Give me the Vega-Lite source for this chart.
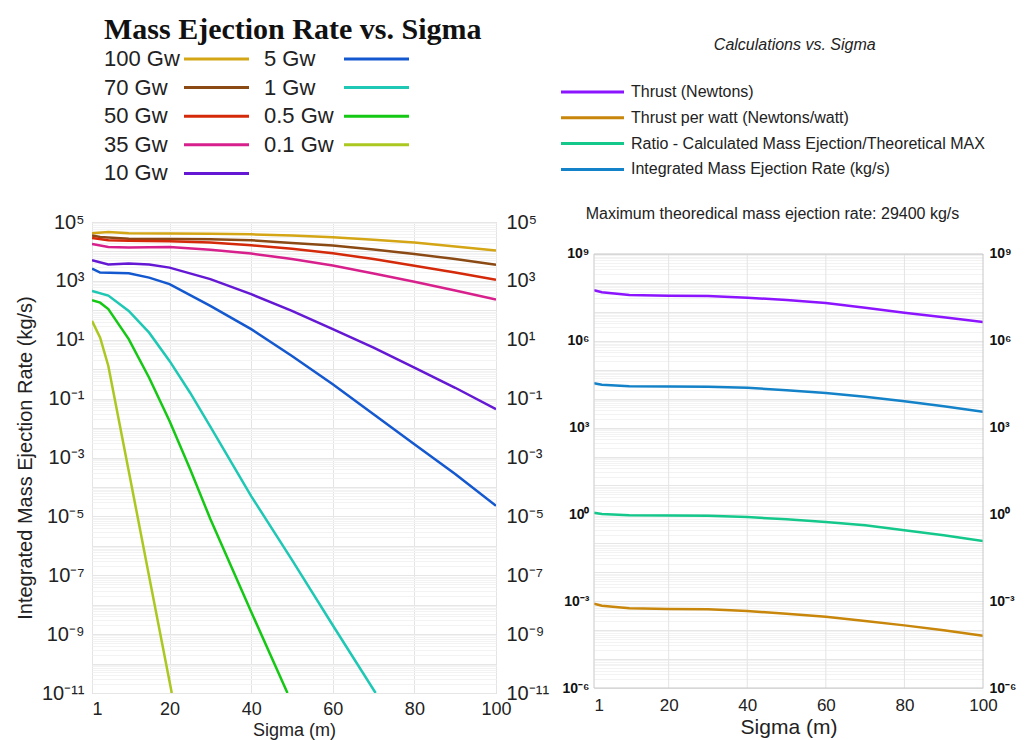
{
  "$schema": "https://vega.github.io/schema/vega-lite/v6.json",
  "padding": {"left": 14, "top": 14, "right": 0, "bottom": 0},
  "background": "white",
  "spacing": 9,
  "resolve": {"scale": {"color": "independent", "x": "independent", "y": "independent"}, "legend": {"color": "independent"}},
  "config": {
    "font": "Liberation Sans",
    "view": {"stroke": "#c8c8c8"},
    "axis": {"labelFont": "Liberation Sans", "titleFont": "Liberation Sans", "labelColor": "#222222", "titleColor": "#222222", "ticks": false, "domain": false, "titleFontWeight": "normal", "gridColor": "#e4e4e4"},
    "legend": {"labelFont": "Liberation Sans", "labelColor": "#222222", "titleColor": "#111111"}
  },
  "datasets": {
    "left": [
      {"series": "100 Gw", "sigma": 1, "rate": 41700}, {"series": "100 Gw", "sigma": 5, "rate": 45700}, {"series": "100 Gw", "sigma": 10, "rate": 41700}, {"series": "100 Gw", "sigma": 20, "rate": 40700}, {"series": "100 Gw", "sigma": 30, "rate": 39800}, {"series": "100 Gw", "sigma": 40, "rate": 38000}, {"series": "100 Gw", "sigma": 50, "rate": 34700}, {"series": "100 Gw", "sigma": 60, "rate": 30200}, {"series": "100 Gw", "sigma": 70, "rate": 25100}, {"series": "100 Gw", "sigma": 80, "rate": 20000}, {"series": "100 Gw", "sigma": 90, "rate": 14800}, {"series": "100 Gw", "sigma": 100, "rate": 10700},
      {"series": "70 Gw", "sigma": 1, "rate": 34700}, {"series": "70 Gw", "sigma": 3, "rate": 30900}, {"series": "70 Gw", "sigma": 10, "rate": 26900}, {"series": "70 Gw", "sigma": 20, "rate": 26300}, {"series": "70 Gw", "sigma": 30, "rate": 25700}, {"series": "70 Gw", "sigma": 40, "rate": 24000}, {"series": "70 Gw", "sigma": 50, "rate": 19500}, {"series": "70 Gw", "sigma": 60, "rate": 15800}, {"series": "70 Gw", "sigma": 70, "rate": 11700}, {"series": "70 Gw", "sigma": 80, "rate": 8130}, {"series": "70 Gw", "sigma": 90, "rate": 5500}, {"series": "70 Gw", "sigma": 100, "rate": 3550},
      {"series": "50 Gw", "sigma": 1, "rate": 28800}, {"series": "50 Gw", "sigma": 5, "rate": 24000}, {"series": "50 Gw", "sigma": 10, "rate": 22900}, {"series": "50 Gw", "sigma": 20, "rate": 22400}, {"series": "50 Gw", "sigma": 30, "rate": 20000}, {"series": "50 Gw", "sigma": 40, "rate": 16200}, {"series": "50 Gw", "sigma": 50, "rate": 12300}, {"series": "50 Gw", "sigma": 60, "rate": 8710}, {"series": "50 Gw", "sigma": 70, "rate": 5500}, {"series": "50 Gw", "sigma": 80, "rate": 3240}, {"series": "50 Gw", "sigma": 90, "rate": 1910}, {"series": "50 Gw", "sigma": 100, "rate": 1100},
      {"series": "35 Gw", "sigma": 1, "rate": 17800}, {"series": "35 Gw", "sigma": 5, "rate": 14100}, {"series": "35 Gw", "sigma": 10, "rate": 13500}, {"series": "35 Gw", "sigma": 20, "rate": 14100}, {"series": "35 Gw", "sigma": 30, "rate": 11500}, {"series": "35 Gw", "sigma": 40, "rate": 8510}, {"series": "35 Gw", "sigma": 50, "rate": 5500}, {"series": "35 Gw", "sigma": 60, "rate": 3310}, {"series": "35 Gw", "sigma": 70, "rate": 1780}, {"series": "35 Gw", "sigma": 80, "rate": 933}, {"series": "35 Gw", "sigma": 90, "rate": 468}, {"series": "35 Gw", "sigma": 100, "rate": 234},
      {"series": "10 Gw", "sigma": 1, "rate": 5010}, {"series": "10 Gw", "sigma": 5, "rate": 3630}, {"series": "10 Gw", "sigma": 10, "rate": 3890}, {"series": "10 Gw", "sigma": 15, "rate": 3630}, {"series": "10 Gw", "sigma": 20, "rate": 2820}, {"series": "10 Gw", "sigma": 30, "rate": 1150}, {"series": "10 Gw", "sigma": 40, "rate": 355}, {"series": "10 Gw", "sigma": 50, "rate": 95.5}, {"series": "10 Gw", "sigma": 60, "rate": 22.9}, {"series": "10 Gw", "sigma": 70, "rate": 5.37}, {"series": "10 Gw", "sigma": 80, "rate": 1.12}, {"series": "10 Gw", "sigma": 90, "rate": 0.234}, {"series": "10 Gw", "sigma": 100, "rate": 0.0437},
      {"series": "5 Gw", "sigma": 1, "rate": 2630}, {"series": "5 Gw", "sigma": 3, "rate": 1910}, {"series": "5 Gw", "sigma": 10, "rate": 1820}, {"series": "5 Gw", "sigma": 15, "rate": 1290}, {"series": "5 Gw", "sigma": 20, "rate": 776}, {"series": "5 Gw", "sigma": 30, "rate": 141}, {"series": "5 Gw", "sigma": 40, "rate": 22.9}, {"series": "5 Gw", "sigma": 50, "rate": 2.82}, {"series": "5 Gw", "sigma": 60, "rate": 0.309}, {"series": "5 Gw", "sigma": 70, "rate": 0.0295}, {"series": "5 Gw", "sigma": 80, "rate": 0.00282}, {"series": "5 Gw", "sigma": 90, "rate": 0.000275}, {"series": "5 Gw", "sigma": 100, "rate": 0.0000229},
      {"series": "1 Gw", "sigma": 1, "rate": 457}, {"series": "1 Gw", "sigma": 5, "rate": 316}, {"series": "1 Gw", "sigma": 10, "rate": 95.5}, {"series": "1 Gw", "sigma": 15, "rate": 17.4}, {"series": "1 Gw", "sigma": 20, "rate": 1.91}, {"series": "1 Gw", "sigma": 25, "rate": 0.162}, {"series": "1 Gw", "sigma": 30, "rate": 0.0112}, {"series": "1 Gw", "sigma": 40, "rate": 4.9e-5}, {"series": "1 Gw", "sigma": 50, "rate": 3.31e-7}, {"series": "1 Gw", "sigma": 60, "rate": 2.0e-9}, {"series": "1 Gw", "sigma": 70, "rate": 1.29e-11}, {"series": "1 Gw", "sigma": 70.5, "rate": 1e-11},
      {"series": "0.5 Gw", "sigma": 1, "rate": 219}, {"series": "0.5 Gw", "sigma": 3, "rate": 182}, {"series": "0.5 Gw", "sigma": 5, "rate": 110}, {"series": "0.5 Gw", "sigma": 10, "rate": 10.5}, {"series": "0.5 Gw", "sigma": 15, "rate": 0.513}, {"series": "0.5 Gw", "sigma": 20, "rate": 0.0174}, {"series": "0.5 Gw", "sigma": 25, "rate": 4.17e-4}, {"series": "0.5 Gw", "sigma": 30, "rate": 8.13e-6}, {"series": "0.5 Gw", "sigma": 40, "rate": 5.75e-9}, {"series": "0.5 Gw", "sigma": 48.9, "rate": 1e-11},
      {"series": "0.1 Gw", "sigma": 1, "rate": 43.7}, {"series": "0.1 Gw", "sigma": 3, "rate": 11.7}, {"series": "0.1 Gw", "sigma": 5, "rate": 1.29}, {"series": "0.1 Gw", "sigma": 10, "rate": 3.5e-4}, {"series": "0.1 Gw", "sigma": 15, "rate": 9.1e-8}, {"series": "0.1 Gw", "sigma": 20, "rate": 2.45e-11}, {"series": "0.1 Gw", "sigma": 20.55, "rate": 1e-11}
    ],
    "right": [
      {"series": "Thrust (Newtons)", "sigma": 1, "value": 5.56e7}, {"series": "Thrust (Newtons)", "sigma": 3, "value": 4.74e7}, {"series": "Thrust (Newtons)", "sigma": 10, "value": 3.83e7}, {"series": "Thrust (Newtons)", "sigma": 20, "value": 3.63e7}, {"series": "Thrust (Newtons)", "sigma": 30, "value": 3.53e7}, {"series": "Thrust (Newtons)", "sigma": 40, "value": 3.09e7}, {"series": "Thrust (Newtons)", "sigma": 50, "value": 2.57e7}, {"series": "Thrust (Newtons)", "sigma": 60, "value": 2.02e7}, {"series": "Thrust (Newtons)", "sigma": 70, "value": 1.39e7}, {"series": "Thrust (Newtons)", "sigma": 80, "value": 9.35e6}, {"series": "Thrust (Newtons)", "sigma": 90, "value": 6.5e6}, {"series": "Thrust (Newtons)", "sigma": 100, "value": 4.47e6},
      {"series": "Thrust per watt (Newtons/watt)", "sigma": 1, "value": 8.17e-4}, {"series": "Thrust per watt (Newtons/watt)", "sigma": 3, "value": 6.97e-4}, {"series": "Thrust per watt (Newtons/watt)", "sigma": 10, "value": 5.66e-4}, {"series": "Thrust per watt (Newtons/watt)", "sigma": 20, "value": 5.37e-4}, {"series": "Thrust per watt (Newtons/watt)", "sigma": 30, "value": 5.24e-4}, {"series": "Thrust per watt (Newtons/watt)", "sigma": 40, "value": 4.57e-4}, {"series": "Thrust per watt (Newtons/watt)", "sigma": 50, "value": 3.69e-4}, {"series": "Thrust per watt (Newtons/watt)", "sigma": 60, "value": 2.9e-4}, {"series": "Thrust per watt (Newtons/watt)", "sigma": 70, "value": 2.06e-4}, {"series": "Thrust per watt (Newtons/watt)", "sigma": 80, "value": 1.46e-4}, {"series": "Thrust per watt (Newtons/watt)", "sigma": 90, "value": 9.84e-5}, {"series": "Thrust per watt (Newtons/watt)", "sigma": 100, "value": 6.4e-5},
      {"series": "Ratio - Calculated Mass Ejection/Theoretical MAX", "sigma": 1, "value": 1.143}, {"series": "Ratio - Calculated Mass Ejection/Theoretical MAX", "sigma": 3, "value": 1.03}, {"series": "Ratio - Calculated Mass Ejection/Theoretical MAX", "sigma": 10, "value": 0.929}, {"series": "Ratio - Calculated Mass Ejection/Theoretical MAX", "sigma": 20, "value": 0.912}, {"series": "Ratio - Calculated Mass Ejection/Theoretical MAX", "sigma": 30, "value": 0.9}, {"series": "Ratio - Calculated Mass Ejection/Theoretical MAX", "sigma": 40, "value": 0.811}, {"series": "Ratio - Calculated Mass Ejection/Theoretical MAX", "sigma": 50, "value": 0.676}, {"series": "Ratio - Calculated Mass Ejection/Theoretical MAX", "sigma": 60, "value": 0.545}, {"series": "Ratio - Calculated Mass Ejection/Theoretical MAX", "sigma": 70, "value": 0.419}, {"series": "Ratio - Calculated Mass Ejection/Theoretical MAX", "sigma": 80, "value": 0.281}, {"series": "Ratio - Calculated Mass Ejection/Theoretical MAX", "sigma": 90, "value": 0.189}, {"series": "Ratio - Calculated Mass Ejection/Theoretical MAX", "sigma": 100, "value": 0.12},
      {"series": "Integrated Mass Ejection Rate (kg/s)", "sigma": 1, "value": 33960}, {"series": "Integrated Mass Ejection Rate (kg/s)", "sigma": 3, "value": 30340}, {"series": "Integrated Mass Ejection Rate (kg/s)", "sigma": 10, "value": 26730}, {"series": "Integrated Mass Ejection Rate (kg/s)", "sigma": 20, "value": 26300}, {"series": "Integrated Mass Ejection Rate (kg/s)", "sigma": 30, "value": 25880}, {"series": "Integrated Mass Ejection Rate (kg/s)", "sigma": 40, "value": 23880}, {"series": "Integrated Mass Ejection Rate (kg/s)", "sigma": 50, "value": 19450}, {"series": "Integrated Mass Ejection Rate (kg/s)", "sigma": 60, "value": 15670}, {"series": "Integrated Mass Ejection Rate (kg/s)", "sigma": 70, "value": 11670}, {"series": "Integrated Mass Ejection Rate (kg/s)", "sigma": 80, "value": 8090}, {"series": "Integrated Mass Ejection Rate (kg/s)", "sigma": 90, "value": 5430}, {"series": "Integrated Mass Ejection Rate (kg/s)", "sigma": 100, "value": 3540}
    ]
  },
  "hconcat": [
    {
      "width": 404,
      "height": 471,
      "data": {"name": "left"},
      "layer": [
        {
          "mark": {"type": "line", "strokeWidth": 2.5, "clip": true},
          "encoding": {
            "x": {"field": "sigma", "type": "quantitative", "scale": {"domain": [1, 100], "nice": false, "zero": false},
              "axis": {"values": [1, 20, 40, 60, 80, 100], "title": "Sigma (m)", "labelFontSize": 18, "titleFontSize": 18, "labelPadding": 7, "titlePadding": 3, "labelFlush": false,
                "labelAlign": {"condition": {"test": "datum.value == 1", "value": "left"}, "value": "center"}}},
            "y": {"field": "rate", "type": "quantitative", "scale": {"type": "log", "domain": [1e-11, 100000], "nice": false},
              "axis": {"orient": "left", "values": [100000, 1000, 10, 0.1, 0.001, 0.00001, 1e-7, 1e-9, 1e-11], "grid": false, "labelOverlap": false, "labelFontSize": 20, "labelPadding": 8,
                "labelExpr": "'10' + replace(replace(replace(replace(replace(replace(replace(replace(replace(replace(replace('' + round(log(datum.value)/LN10), regexp('-','g'), '⁻'), regexp('0','g'), '⁰'), regexp('1','g'), '¹'), regexp('2','g'), '²'), regexp('3','g'), '³'), regexp('4','g'), '⁴'), regexp('5','g'), '⁵'), regexp('6','g'), '⁶'), regexp('7','g'), '⁷'), regexp('8','g'), '⁸'), regexp('9','g'), '⁹')",
                "title": "Integrated Mass Ejection Rate (kg/s)", "titleFontSize": 20, "titlePadding": 6}},
            "color": {"field": "series", "type": "nominal",
              "scale": {"domain": ["100 Gw", "70 Gw", "50 Gw", "35 Gw", "10 Gw", "5 Gw", "1 Gw", "0.5 Gw", "0.1 Gw"],
                "range": ["#d4a514", "#8b4a14", "#d42a0a", "#d8208c", "#6418d4", "#1458d0", "#1ec8b4", "#14c814", "#aac820"]},
              "legend": {"orient": "none", "legendX": 12, "legendY": -207, "columns": 2, "columnPadding": 9, "rowPadding": 6.6,
                "symbolType": "M69,0H134", "symbolSize": 4, "symbolStrokeWidth": 3, "symbolOffset": 0, "labelOffset": -22, "labelFontSize": 22, "labelLimit": 0,
                "title": "Mass Ejection Rate vs. Sigma", "titleFont": "Liberation Serif", "titleFontSize": 30, "titleFontWeight": "bold", "titleAnchor": "start", "titlePadding": 3, "titleLimit": 0}}
          }
        },
        {
          "mark": {"type": "line", "strokeWidth": 2.5, "opacity": 0, "clip": true},
          "encoding": {
            "x": {"field": "sigma", "type": "quantitative"},
            "y": {"field": "rate", "type": "quantitative",
              "axis": {"orient": "right", "title": null, "labelOverlap": false, "labelFontSize": 20, "labelPadding": 10, "grid": true,
                "gridColor": {"condition": {"test": "abs(log(datum.value)/LN10 - round(log(datum.value)/LN10)) < 0.001", "value": "#e6e6e6"}, "value": "#f3f3f3"},
                "values": [1e-11,2e-11,3e-11,4e-11,5e-11,6e-11,7e-11,8e-11,9e-11,1e-10,2e-10,3e-10,4e-10,5e-10,6e-10,7e-10,8e-10,9e-10,1e-9,2e-9,3e-9,4e-9,5e-9,6e-9,7e-9,8e-9,9e-9,1e-8,2e-8,3e-8,4e-8,5e-8,6e-8,7e-8,8e-8,9e-8,1e-7,2e-7,3e-7,4e-7,5e-7,6e-7,7e-7,8e-7,9e-7,1e-6,2e-6,3e-6,4e-6,5e-6,6e-6,7e-6,8e-6,9e-6,1e-5,2e-5,3e-5,4e-5,5e-5,6e-5,7e-5,8e-5,9e-5,1e-4,2e-4,3e-4,4e-4,5e-4,6e-4,7e-4,8e-4,9e-4,1e-3,2e-3,3e-3,4e-3,5e-3,6e-3,7e-3,8e-3,9e-3,0.01,0.02,0.03,0.04,0.05,0.06,0.07,0.08,0.09,0.1,0.2,0.3,0.4,0.5,0.6,0.7,0.8,0.9,1,2,3,4,5,6,7,8,9,10,20,30,40,50,60,70,80,90,100,200,300,400,500,600,700,800,900,1000,2000,3000,4000,5000,6000,7000,8000,9000,10000,20000,30000,40000,50000,60000,70000,80000,90000,100000],
                "labelExpr": "abs(log(datum.value)/LN10 - round(log(datum.value)/LN10)) < 0.001 && round(log(datum.value)/LN10) % 2 != 0 ? '10' + replace(replace(replace(replace(replace(replace(replace(replace(replace(replace(replace('' + round(log(datum.value)/LN10), regexp('-','g'), '⁻'), regexp('0','g'), '⁰'), regexp('1','g'), '¹'), regexp('2','g'), '²'), regexp('3','g'), '³'), regexp('4','g'), '⁴'), regexp('5','g'), '⁵'), regexp('6','g'), '⁶'), regexp('7','g'), '⁷'), regexp('8','g'), '⁸'), regexp('9','g'), '⁹') : ''"}},
            "detail": {"field": "series", "type": "nominal"}
          }
        }
      ],
      "resolve": {"axis": {"y": "independent"}}
    },
    {
      "width": 389,
      "height": 466,
      "view": {"stroke": null},
      "data": {"name": "right"},
      "title": {"text": "Calculations vs. Sigma", "fontSize": 16, "fontStyle": "italic", "fontWeight": "normal", "anchor": "middle", "frame": "bounds", "offset": 31, "dx": 7, "color": "#222222", "font": "Liberation Sans"},
      "layer": [
        {
          "data": {"values": [{"grid": 20}, {"grid": 40}, {"grid": 60}, {"grid": 80}]},
          "mark": {"type": "rule", "color": "#e4e4e4", "strokeWidth": 1},
          "encoding": {
            "x": {"field": "grid", "type": "quantitative", "scale": {"domain": [1, 100], "nice": false, "zero": false},
              "axis": {"values": [1, 20, 40, 60, 80, 100], "grid": false, "title": "Sigma (m)", "labelFontSize": 17, "titleFontSize": 21, "labelPadding": 9, "titlePadding": 3, "labelFlush": false,
                "labelAlign": {"condition": {"test": "datum.value == 1", "value": "left"}, "value": "center"}}},
            "y": {"datum": 1e-6, "type": "quantitative", "axis": null},
            "y2": {"datum": 1e9}
          }
        },
        {
          "mark": {"type": "line", "strokeWidth": 2.5, "clip": true},
          "encoding": {
            "x": {"field": "sigma", "type": "quantitative",
              "axis": {"values": [1, 20, 40, 60, 80, 100], "grid": false, "title": "Sigma (m)", "labelFontSize": 17, "titleFontSize": 21, "labelPadding": 9, "titlePadding": 3, "labelFlush": false,
                "labelAlign": {"condition": {"test": "datum.value == 1", "value": "left"}, "value": "center"}}},
            "y": {"field": "value", "type": "quantitative", "scale": {"type": "log", "domain": [1e-6, 1.276e10], "nice": false},
              "axis": {"orient": "left", "values": [1e9, 1e6, 1000, 1, 0.001, 1e-6], "grid": false, "labelOverlap": false, "labelFontSize": 14, "labelFontWeight": "bold", "labelColor": "#111111", "labelPadding": 5, "title": null,
                "labelExpr": "'10' + replace(replace(replace(replace(replace(replace(replace(replace(replace(replace(replace('' + round(log(datum.value)/LN10), regexp('-','g'), '⁻'), regexp('0','g'), '⁰'), regexp('1','g'), '¹'), regexp('2','g'), '²'), regexp('3','g'), '³'), regexp('4','g'), '⁴'), regexp('5','g'), '⁵'), regexp('6','g'), '⁶'), regexp('7','g'), '⁷'), regexp('8','g'), '⁸'), regexp('9','g'), '⁹')"}},
            "color": {"field": "series", "type": "nominal",
              "scale": {"domain": ["Thrust (Newtons)", "Thrust per watt (Newtons/watt)", "Ratio - Calculated Mass Ejection/Theoretical MAX", "Integrated Mass Ejection Rate (kg/s)"],
                "range": ["#8c14ff", "#c8860a", "#14c88c", "#1482c8"]},
              "legend": {"orient": "none", "legendX": -34.5, "legendY": -138, "rowPadding": 9.8, "clipHeight": 16,
                "symbolType": "stroke", "symbolSize": 3969, "symbolStrokeWidth": 3, "labelOffset": 5.5, "labelFontSize": 16, "labelLimit": 0,
                "title": "Maximum theoredical mass ejection rate: 29400 kg/s", "titleOrient": "bottom", "titleAnchor": "middle", "titleFont": "Liberation Sans", "titleFontSize": 16, "titleFontWeight": "normal", "titleColor": "#222222", "titlePadding": 29, "titleLimit": 0}}
          }
        },
        {
          "mark": {"type": "line", "strokeWidth": 2.5, "opacity": 0, "clip": true},
          "encoding": {
            "x": {"field": "sigma", "type": "quantitative"},
            "y": {"field": "value", "type": "quantitative",
              "axis": {"orient": "right", "title": null, "labelOverlap": false, "labelFontSize": 14, "labelFontWeight": "bold", "labelColor": "#111111", "labelPadding": 6, "grid": true,
                "gridColor": {"condition": {"test": "abs(log(datum.value)/LN10 - round(log(datum.value)/LN10)) < 0.001", "value": "#e6e6e6"}, "value": "#f3f3f3"},
                "values": [1e-6,2e-6,3e-6,4e-6,5e-6,6e-6,7e-6,8e-6,9e-6,1e-5,2e-5,3e-5,4e-5,5e-5,6e-5,7e-5,8e-5,9e-5,1e-4,2e-4,3e-4,4e-4,5e-4,6e-4,7e-4,8e-4,9e-4,1e-3,2e-3,3e-3,4e-3,5e-3,6e-3,7e-3,8e-3,9e-3,0.01,0.02,0.03,0.04,0.05,0.06,0.07,0.08,0.09,0.1,0.2,0.3,0.4,0.5,0.6,0.7,0.8,0.9,1,2,3,4,5,6,7,8,9,10,20,30,40,50,60,70,80,90,100,200,300,400,500,600,700,800,900,1000,2000,3000,4000,5000,6000,7000,8000,9000,1e4,2e4,3e4,4e4,5e4,6e4,7e4,8e4,9e4,1e5,2e5,3e5,4e5,5e5,6e5,7e5,8e5,9e5,1e6,2e6,3e6,4e6,5e6,6e6,7e6,8e6,9e6,1e7,2e7,3e7,4e7,5e7,6e7,7e7,8e7,9e7,1e8,2e8,3e8,4e8,5e8,6e8,7e8,8e8,9e8,1e9],
                "labelExpr": "abs(log(datum.value)/LN10 - round(log(datum.value)/LN10)) < 0.001 && round(log(datum.value)/LN10) % 3 == 0 ? '10' + replace(replace(replace(replace(replace(replace(replace(replace(replace(replace(replace('' + round(log(datum.value)/LN10), regexp('-','g'), '⁻'), regexp('0','g'), '⁰'), regexp('1','g'), '¹'), regexp('2','g'), '²'), regexp('3','g'), '³'), regexp('4','g'), '⁴'), regexp('5','g'), '⁵'), regexp('6','g'), '⁶'), regexp('7','g'), '⁷'), regexp('8','g'), '⁸'), regexp('9','g'), '⁹') : ''"}},
            "detail": {"field": "series", "type": "nominal"}
          }
        },
        {
          "data": {"values": [{"frame": "plot"}]},
          "mark": {"type": "rect", "fill": "transparent", "stroke": "#c8c8c8", "strokeWidth": 1},
          "encoding": {
            "x": {"datum": 1, "type": "quantitative"},
            "x2": {"datum": 100},
            "y": {"datum": 1e-6, "type": "quantitative", "axis": null},
            "y2": {"datum": 1e9}
          }
        }
      ],
      "resolve": {"axis": {"y": "independent"}}
    }
  ]
}
